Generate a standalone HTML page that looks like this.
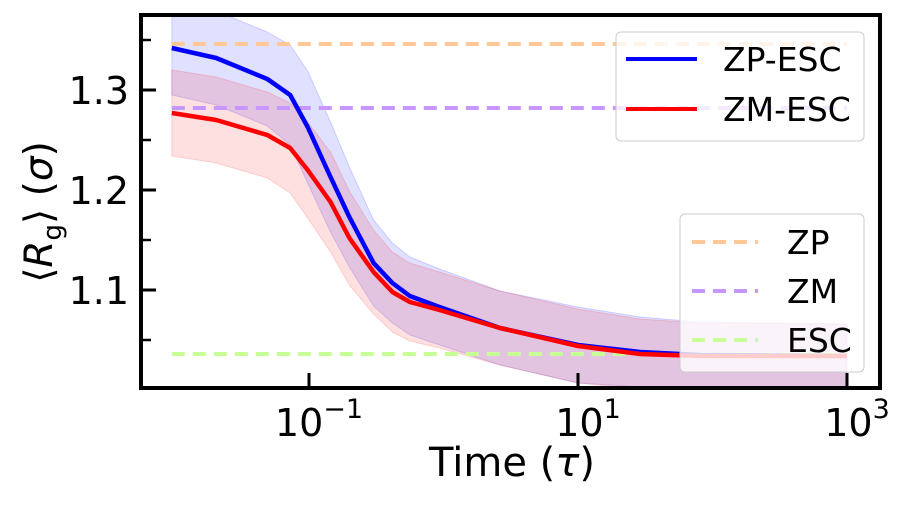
<!DOCTYPE html>
<html><head><meta charset="utf-8"><style>
body{margin:0;background:#fff;}
svg text{font-family:"DejaVu Sans","Liberation Sans",sans-serif;}
</style></head><body>
<svg id="chart" width="900" height="500" xmlns="http://www.w3.org/2000/svg">
<defs><clipPath id="clip"><rect x="141" y="15" width="739" height="373"/></clipPath></defs>
<g id="bands" clip-path="url(#clip)"></g>
<g id="refs" clip-path="url(#clip)"></g>
<g id="lines" clip-path="url(#clip)"></g>
<g id="axes"></g>
<g id="legends"></g>
</svg>
<script>
const logT = [-2.02,-1.69,-1.31,-1.14,-1.01,-0.84,-0.70,-0.52,-0.38,-0.25,-0.03,0.42,1.0,1.46,1.91,3.0];
const zpEsc = [1.342,1.332,1.311,1.295,1.263,1.213,1.173,1.127,1.107,1.094,1.083,1.062,1.045,1.038,1.035,1.034];
const zmEsc = [1.277,1.270,1.255,1.242,1.220,1.188,1.152,1.118,1.098,1.088,1.080,1.062,1.044,1.036,1.034,1.034];
const zpStd = [0.047,0.047,0.047,0.05,0.056,0.055,0.05,0.043,0.04,0.039,0.038,0.037,0.038,0.035,0.033,0.032];
const zmStd = [0.043,0.043,0.043,0.045,0.048,0.05,0.047,0.042,0.04,0.039,0.038,0.037,0.037,0.035,0.033,0.032];
const refNames = ["ZP","ZM","ESC"];
const refValues = [1.346,1.282,1.036];
const refColors = ["#ffc896","#c896ff","#c8ff96"];
const yTicks = [1.1,1.2,1.3];
const yMinor = [1.05,1.15,1.25,1.35];
const xTicks = [-1,1,3];

const NS="http://www.w3.org/2000/svg";
const X = l => 309 + (l + 1) * 134.5;
const Y = v => 90 + (1.3 - v) * 1000;
function mk(tag, attrs, parent, txt){const e=document.createElementNS(NS,tag);for(const k in attrs)e.setAttribute(k,attrs[k]);if(txt!==undefined)e.textContent=txt;document.getElementById(parent).appendChild(e);return e;}

function band(vals, std, fill, stroke, name){
  let up = logT.map((l,i)=>X(l)+','+Y(vals[i]+std[i]));
  let lo = logT.map((l,i)=>X(l)+','+Y(vals[i]-std[i])).reverse();
  const e = mk('polygon',{points:up.concat(lo).join(' '),fill:fill,'fill-opacity':0.12,stroke:stroke,'stroke-opacity':0.15,'stroke-width':1,'stroke-linejoin':'round'},'bands');
  
  
}
band(zpEsc, zpStd, '#0000ff', '#0000ff', 'zp-esc-band');
band(zmEsc, zmStd, '#ff0000', '#ff0000', 'zm-esc-band');

refValues.forEach((v,i)=>{
  const e = mk('line',{x1:X(-2.02),x2:X(3),y1:Y(v),y2:Y(v),stroke:refColors[i],'stroke-width':4,'stroke-dasharray':'13,8'},'refs');
  
  
});

function line(vals,color,name){
  const e = mk('polyline',{points:logT.map((l,i)=>X(l)+','+Y(vals[i])).join(' '),fill:'none',stroke:color,'stroke-width':4.5,'stroke-linejoin':'round'},'lines');
  
  
}
line(zpEsc,'#0000ff','zp-esc-line');
line(zmEsc,'#ff0000','zm-esc-line');

const fr = mk('rect',{x:141,y:15,width:739,height:373,fill:'none',stroke:'#000','stroke-width':4},'axes');


yTicks.forEach(v=>{
  const t = mk('line',{x1:141,x2:156,y1:Y(v),y2:Y(v),stroke:'#000','stroke-width':3},'axes');
  
  
  const l = mk('text',{x:129,y:Y(v)+14,'text-anchor':'end','font-size':38},'axes',v.toFixed(1));
  
  
});
yMinor.forEach(v=>{
  const t = mk('line',{x1:141,x2:151,y1:Y(v),y2:Y(v),stroke:'#000','stroke-width':2.5},'axes');
  
  
});
xTicks.forEach(p=>{
  const t = mk('line',{x1:X(p),x2:X(p),y1:388,y2:373,stroke:'#000','stroke-width':3},'axes');
  
  
  const l = mk('text',{x:X(p)+10,y:436,'text-anchor':'middle','font-size':38},'axes');
  
  
  const a=document.createElementNS(NS,'tspan');a.textContent='10';l.appendChild(a);
  const b=document.createElementNS(NS,'tspan');b.setAttribute('dy','-18');b.setAttribute('font-size','27');b.textContent=(p<0?'\u2212':'')+Math.abs(p);l.appendChild(b);
});
const xl = mk('text',{x:512,y:476,'text-anchor':'middle','font-size':40},'axes');


xl.innerHTML='Time (<tspan font-style="italic">\u03c4</tspan>)';
const yl = mk('text',{x:0,y:0,'text-anchor':'middle','font-size':39,transform:'translate(52,212) rotate(-90)'},'axes');


yl.innerHTML='\u27e8<tspan font-style="italic">R</tspan><tspan font-size="26" dy="9">g</tspan><tspan dy="-9">\u27e9 (</tspan><tspan font-style="italic">\u03c3</tspan>)';

const lg1 = mk('rect',{x:616,y:32,width:248,height:109,rx:5,fill:'#fff','fill-opacity':0.8,stroke:'#ccc','stroke-width':1},'legends');


[['ZP-ESC','#0000ff',59],['ZM-ESC','#ff0000',109]].forEach(([n,c,y])=>{
  const l = mk('line',{x1:626,x2:697,y1:y,y2:y,stroke:c,'stroke-width':4},'legends');
  
  
  const t = mk('text',{x:723,y:y+12,'font-size':33},'legends',n);
  
  
});
const lg2 = mk('rect',{x:680,y:214,width:184,height:158,rx:5,fill:'#fff','fill-opacity':0.8,stroke:'#ccc','stroke-width':1},'legends');


refNames.forEach((n,i)=>{
  const y = 242 + i*49;
  const l = mk('line',{x1:692,x2:758,y1:y,y2:y,stroke:refColors[i],'stroke-width':4,'stroke-dasharray':'13,8'},'legends');
  
  
  const t = mk('text',{x:787,y:y+12,'font-size':33},'legends',n);
  
  
});
</script>
</body></html>
